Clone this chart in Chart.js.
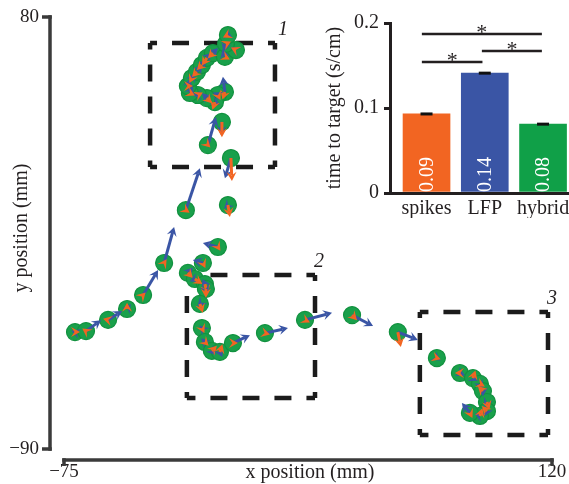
<!DOCTYPE html>
<html><head><meta charset="utf-8">
<script src="https://cdn.jsdelivr.net/npm/chart.js@4.4.0/dist/chart.umd.min.js"></script>
<style>
html,body{margin:0;padding:0;background:#fff;overflow:hidden;width:569px;height:484px;}
#wrap{position:relative;width:569px;height:484px;overflow:hidden;}
#main{position:absolute;left:0;top:0;}
#inset{position:absolute;left:300px;top:0;}
</style></head><body>
<div id="wrap"><canvas id="main" width="569" height="484"></canvas><canvas id="inset" width="290" height="230"></canvas></div>
<script>
const FONT = "'Liberation Serif','Times New Roman',serif";
const INK = '#231f20';
const GREEN = '#19a04b', ORANGE = '#f26522', BLUE = '#3a55a5';

// ---- main trajectory (mm) ----
const xTicks = [-75, 120];
const yTicks = [-90, 80];
const posX = [-70.6, -66.2, -57.4, -49.8, -43.4, -35.0, -26.3, -17.5, -11.9, -10.7,
  -13.5, -14.7, -17.9, -21.5, -24.7, -25.5, -23.9, -21.9, -19.9, -17.9,
  -15.5, -10.7, -6.3, -10.3, -9.5, -8.3, -9.5, -13.5, -19.5, -25.5,
  -22.7, -18.7, -18.3, -20.7, -19.9, -18.7, -15.9, -12.7, -7.5, 5.3,
  21.3, 40.1, 58.4, 74.0, 83.2, 88.4, 91.2, 92.4, 94.0, 94.0, 91.2, 87.2];
const posY = [-44.0, -43.6, -39.2, -34.9, -29.4, -16.8, 4.0, 29.6, 38.7, 50.5,
  49.3, 46.5, 48.1, 49.3, 50.1, 52.8, 56.0, 58.4, 61.1, 63.9,
  65.8, 64.3, 67.0, 69.4, 72.9, 24.5, 6.0, -10.5, -16.8, -20.7,
  -23.1, -25.1, -27.0, -32.9, -42.4, -47.9, -51.4, -51.8, -48.3, -44.4,
  -39.2, -37.3, -44.0, -54.2, -60.1, -62.1, -64.4, -67.2, -71.5, -75.1, -77.0, -75.8];
// LFP-decoded (blue) and spike-decoded (orange) velocity arrows, mm
const blueDX = [-1.5, 6.0, 5.6, 1.5, 6.0, 4.0, 5.6, 3.2, -0.5, -0.8,
  -2, 2, -2, -2, 1, 1, 1, 2, 2, 2,
  2, -1, -2, -1, 0, -2.4, -1.5, -6.0, -4.0, 2,
  -2, -1, 1, -1, -1, -1.5, 1.5, 1, 6.8, 9.2,
  10.8, 8.4, 8.0, 1.5, 2, 2, 1, 0, -1, -1, -2, -3.2];
const blueDY = [0.5, 4.3, 3.5, 2, 9.8, 14.2, 16.5, 11, -5, 6,
  1, -1, 2, 0, 3, 3, 2, 3, 2, 2,
  2, 3, 1, -3, 2, -8, -1.5, 1.6, 1.2, 2,
  -1, 2, -2, -1, 1, 1.5, -1.5, -2, 3.1, 2,
  2.8, -4.3, -3.1, -1, -1, -1, -2, -2, -2, -2, 1, 3.9];
const orangeDX = [2, -1.5, -2, 0, 1, 1, 1.5, 1, 0, -1,
  1, -1, 2, 2, 2, 2, -1, -2, -2, -2,
  -2, 2, -2, 2, -2, 0.4, 0.8, 1, 1, 2,
  3, 1, 0, 1.2, 1, 1.5, 2, 1, 2, 2,
  2, 2, 1.2, 1.5, -2, 1, 2, -2, 1, -2, 1, 1];
const orangeDY = [0, 1, 0.5, 2.5, 1, 1.5, -1, -1, -6, -3,
  -2, -3, -2, 1, -1, 0, -2, -2, -2, -3,
  -2, -1, 1, 1, -1, -9, -4.7, -1.5, -2, -2,
  -2, -4, -3.5, -3.5, -2, -1.5, 2, 3, 0, -0.5,
  -1, -2, -5.9, -0.5, 0, 3, -1, 2, -3, 2, 3, -2];
// highlighted regions (mm)
const boxNames = ['1', '2', '3'];
const boxX0 = [-40.6, -25.9, 67.2];
const boxX1 = [9.3, 25.3, 118.4];
const boxY0 = [21.0, -69.9, -84.5];
const boxY1 = [69.8, -21.5, -36.1];

// ---- inset bar chart ----
const categories = ['spikes', 'LFP', 'hybrid'];
const times = [0.093, 0.141, 0.081];
const timeErr = [0.0012, 0.0012, 0.0012];
const barColors = [ORANGE, BLUE, '#10a048'];
const barTicks = [0, 0.1, 0.2];
const sigFrom = [-0.08, -0.08, 0.95];
const sigTo = [1.98, 0.96, 1.98];
const sigLevel = [0.187, 0.154, 0.167];

function fmtSigned(v) { return v < 0 ? '\u2212' + Math.abs(v) : String(v); }

function dashedSide(ctx, x0, y0, x1, y1) {
  const L = Math.hypot(x1 - x0, y1 - y0), d = 17, g = 15, p = d + g;
  const start = L / 2 - d / 2;
  ctx.setLineDash([d, g]);
  ctx.lineDashOffset = ((-start) % p + p) % p;
  ctx.beginPath(); ctx.moveTo(x0, y0); ctx.lineTo(x1, y1); ctx.stroke();
}

function drawArrow(ctx, x0, y0, x1, y1, color) {
  const dx = x1 - x0, dy = y1 - y0, len = Math.hypot(dx, dy);
  if (len < 0.1) return;
  const ux = dx / len, uy = dy / len, nx = -uy, ny = ux;
  const hl = 9, hw = 5, notch = 5.5;
  ctx.strokeStyle = color; ctx.fillStyle = color; ctx.lineWidth = 3; ctx.setLineDash([]);
  const sx = x1 - ux * notch, sy = y1 - uy * notch;
  if (len > notch) { ctx.beginPath(); ctx.moveTo(x0, y0); ctx.lineTo(sx, sy); ctx.stroke(); }
  ctx.beginPath();
  ctx.moveTo(x1, y1);
  ctx.lineTo(x1 - ux * hl + nx * hw, y1 - uy * hl + ny * hw);
  ctx.lineTo(sx, sy);
  ctx.lineTo(x1 - ux * hl - nx * hw, y1 - uy * hl - ny * hw);
  ctx.closePath(); ctx.fill();
}

const mainDecor = {
  id: 'mainDecor',
  beforeDatasetsDraw(chart) {
    const { ctx, scales: { x, y } } = chart;
    ctx.save();
    ctx.strokeStyle = '#1b1b1b'; ctx.lineWidth = 4.5; ctx.lineCap = 'butt';
    for (let i = 0; i < boxNames.length; i++) {
      const l = x.getPixelForValue(boxX0[i]), r = x.getPixelForValue(boxX1[i]);
      const t = y.getPixelForValue(boxY1[i]), b = y.getPixelForValue(boxY0[i]);
      dashedSide(ctx, l, t, r, t); dashedSide(ctx, r, t, r, b);
      dashedSide(ctx, r, b, l, b); dashedSide(ctx, l, b, l, t);
      ctx.fillStyle = INK; ctx.font = 'italic 20px ' + FONT;
      ctx.textAlign = 'left'; ctx.textBaseline = 'middle';
      ctx.fillText(boxNames[i], r + (i === 0 ? 3 : -1), t - 13);
    }
    ctx.restore();
  },
  afterDatasetsDraw(chart) {
    const { ctx, scales: { x, y } } = chart;
    ctx.save();
    for (let i = 0; i < posX.length; i++) {
      const px = x.getPixelForValue(posX[i]), py = y.getPixelForValue(posY[i]);
      drawArrow(ctx, px, py, x.getPixelForValue(posX[i] + blueDX[i]), y.getPixelForValue(posY[i] + blueDY[i]), BLUE);
      drawArrow(ctx, px, py, x.getPixelForValue(posX[i] + orangeDX[i]), y.getPixelForValue(posY[i] + orangeDY[i]), ORANGE);
    }
    ctx.restore();
  },
  afterDraw(chart) {
    const { ctx, chartArea: { left, right, top, bottom }, scales: { x, y } } = chart;
    ctx.save();
    ctx.strokeStyle = '#3a3a3a'; ctx.lineWidth = 3.5; ctx.lineCap = 'butt'; ctx.setLineDash([]);
    const ax = left - 14, h = 1.75;
    const yA = y.getPixelForValue(Math.max(...yTicks)), yB = y.getPixelForValue(Math.min(...yTicks));
    ctx.beginPath(); ctx.moveTo(ax, yA - h); ctx.lineTo(ax, yB + h); ctx.stroke();
    yTicks.forEach(v => { const p = y.getPixelForValue(v); ctx.beginPath(); ctx.moveTo(ax - 8, p); ctx.lineTo(ax + h, p); ctx.stroke(); });
    const ay = bottom + 11;
    const xA = x.getPixelForValue(Math.min(...xTicks)), xB = x.getPixelForValue(Math.max(...xTicks));
    ctx.beginPath(); ctx.moveTo(xA - h, ay); ctx.lineTo(xB + h, ay); ctx.stroke();
    xTicks.forEach(v => { const p = x.getPixelForValue(v); ctx.beginPath(); ctx.moveTo(p, ay - h); ctx.lineTo(p, ay + 6); ctx.stroke(); });
    ctx.fillStyle = INK; ctx.font = '20px ' + FONT; ctx.textAlign = 'center'; ctx.textBaseline = 'middle';
    ctx.fillText('x position (mm)', (left + right) / 2 + 2, bottom + 24);
    ctx.translate(22, (top + bottom) / 2 - 5); ctx.rotate(-Math.PI / 2);
    ctx.fillText('y position (mm)', 0, 0);
    ctx.restore();
  }
};

new Chart(document.getElementById('main'), {
  type: 'scatter',
  data: { datasets: [{
    data: posX.map((v, i) => ({ x: v, y: posY[i] })),
    backgroundColor: GREEN, borderColor: '#12913f', borderWidth: 1.2,
    pointRadius: 8.5, pointHoverRadius: 8.5, clip: false
  }] },
  options: {
    responsive: false, animation: false, events: [],
    layout: { padding: { left: 9, right: 17, top: 17, bottom: 2 } },
    plugins: { legend: { display: false }, tooltip: { enabled: false } },
    scales: {
      x: {
        type: 'linear', min: -75, max: 120,
        afterBuildTicks: s => { s.ticks = xTicks.map(v => ({ value: v })); },
        afterFit: s => { s.height = 33; },
        grid: { display: false, drawTicks: true, tickLength: 12 }, border: { display: false },
        ticks: { font: { family: FONT, size: 19, lineHeight: 1 }, color: INK, padding: 2, maxRotation: 0, autoSkip: false, callback: v => fmtSigned(v) }
      },
      y: {
        type: 'linear', min: -90, max: 80,
        afterBuildTicks: s => { s.ticks = yTicks.map(v => ({ value: v })); },
        afterFit: s => { s.width = 55; },
        grid: { display: false, drawTicks: true, tickLength: 21 }, border: { display: false },
        ticks: { font: { family: FONT, size: 19, lineHeight: 1 }, color: INK, padding: 4, autoSkip: false, callback: v => fmtSigned(v) }
      }
    }
  },
  plugins: [mainDecor]
});

const insetDecor = {
  id: 'insetDecor',
  afterDatasetsDraw(chart) {
    const { ctx, scales: { x, y } } = chart;
    const meta = chart.getDatasetMeta(0);
    ctx.save();
    meta.data.forEach((bar, i) => {
      const cx = bar.x;
      const yt = y.getPixelForValue(times[i] + timeErr[i]), yb = y.getPixelForValue(times[i] - timeErr[i]);
      const hh = Math.max(3, yb - yt);
      ctx.fillStyle = '#111'; ctx.fillRect(cx - 6, (yt + yb) / 2 - hh / 2, 12, hh);
      ctx.save();
      ctx.translate(cx + 1, y.getPixelForValue(0) - 1); ctx.rotate(-Math.PI / 2);
      ctx.fillStyle = '#fff'; ctx.font = '20px ' + FONT; ctx.textAlign = 'left'; ctx.textBaseline = 'middle';
      ctx.fillText(times[i].toFixed(2), 0, 0);
      ctx.restore();
    });
    ctx.strokeStyle = INK; ctx.lineWidth = 2.5; ctx.fillStyle = INK;
    ctx.font = '22px ' + FONT; ctx.textAlign = 'center'; ctx.textBaseline = 'alphabetic';
    for (let i = 0; i < sigLevel.length; i++) {
      const py = y.getPixelForValue(sigLevel[i]);
      const a = x.getPixelForValue(sigFrom[i]), b = x.getPixelForValue(sigTo[i]);
      ctx.beginPath(); ctx.moveTo(a, py); ctx.lineTo(b, py); ctx.stroke();
      ctx.fillText('*', (a + b) / 2, py + 5);
    }
    ctx.restore();
  }
};

new Chart(document.getElementById('inset'), {
  type: 'bar',
  data: { datasets: [{
    data: times.map((v, i) => ({ x: i, y: v })),
    backgroundColor: barColors, borderWidth: 0, barThickness: 47
  }] },
  options: {
    responsive: false, animation: false, events: [],
    layout: { padding: { left: 0, right: 0, top: 23, bottom: 12 } },
    plugins: { legend: { display: false }, tooltip: { enabled: false } },
    scales: {
      x: {
        type: 'linear', min: -0.627, max: 2.806, offset: false,
        afterBuildTicks: s => { s.ticks = categories.map((c, i) => ({ value: i })); },
        afterFit: s => { s.height = 25; },
        grid: { display: false, drawTicks: false, offset: false },
        border: { display: true, width: 3, color: INK },
        ticks: { font: { family: FONT, size: 20, lineHeight: 1 }, color: INK, padding: 6, maxRotation: 0, autoSkip: false, callback: v => categories[v] }
      },
      y: {
        type: 'linear', min: 0, max: 0.2,
        afterBuildTicks: s => { s.ticks = barTicks.map(v => ({ value: v })); },
        afterFit: s => { s.width = 90; },
        grid: { display: true, drawOnChartArea: false, drawTicks: true, tickLength: 6, lineWidth: 3, color: INK },
        border: { display: true, width: 3, color: INK },
        title: { display: true, text: 'time to target (s/cm)', color: INK, font: { family: FONT, size: 20, lineHeight: 1 }, padding: { top: 25, bottom: 0 } },
        ticks: { font: { family: FONT, size: 20, lineHeight: 1 }, color: INK, padding: 5, callback: v => v === 0 ? '0' : v.toFixed(1) }
      }
    }
  },
  plugins: [insetDecor]
});
</script></body></html>
